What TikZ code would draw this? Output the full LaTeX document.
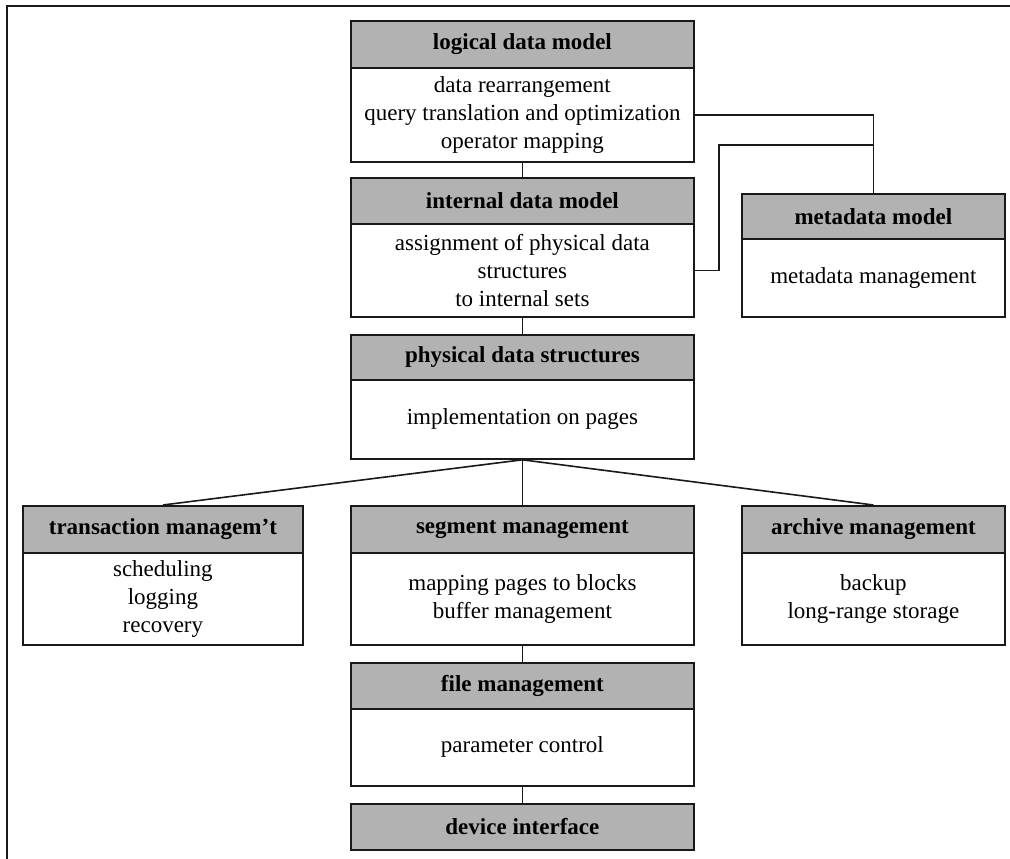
\documentclass[tikz,border=0pt]{standalone}
\usepackage{fontspec}
\setmainfont{Liberation Serif}
\begin{document}
\begin{tikzpicture}[x=1pt,y=-1pt,
  box/.style={draw=black!90, line width=1.8pt, anchor=north west, inner sep=0pt, align=center,
    font=\fontsize{23}{28}\selectfont},
  hdr/.style={box, fill=black!30, font=\fontsize{23}{28}\selectfont\bfseries},
  bodybox/.style={box, fill=white},
  link/.style={draw=black!90, line width=1.6pt}]
\useasboundingbox (0,0) rectangle (1010,859);
% partial frame: top and left edges
\draw[line width=2.2pt, black!90] (1010,6) -- (7,6) -- (7,859);

% central column
\node[hdr, minimum width=343, minimum height=47] (logh) at (350,20) {logical data model};
\node[bodybox, minimum width=343, minimum height=94] (logb) at (350,67)
  {data rearrangement\\query translation and optimization\\operator mapping};

\node[hdr, minimum width=343, minimum height=46] (inth) at (350,177) {internal data model};
\node[bodybox, minimum width=343, minimum height=93] (intb) at (350,223)
  {assignment of physical data\\structures\\to internal sets};

\node[hdr, minimum width=343, minimum height=45] (phyh) at (350,334) {physical data structures};
\node[bodybox, minimum width=343, minimum height=79] (phyb) at (350,379) {implementation on pages};

% metadata
\node[hdr, minimum width=263, minimum height=45] (metah) at (741,193) {metadata model};
\node[bodybox, minimum width=263, minimum height=78] (metab) at (741,238) {metadata management};

% lower row
\node[hdr, minimum width=280, minimum height=47] (trah) at (22,505) {transaction managem’t};
\node[bodybox, minimum width=280, minimum height=92] (trab) at (22,552) {scheduling\\logging\\recovery};

\node[hdr, minimum width=343, minimum height=47] (segh) at (350,505) {segment management};
\node[bodybox, minimum width=343, minimum height=92] (segb) at (350,552) {mapping pages to blocks\\buffer management};

\node[hdr, minimum width=263, minimum height=47] (arch) at (741,505) {archive management};
\node[bodybox, minimum width=263, minimum height=92] (arcb) at (741,552) {backup\\long-range storage};

\node[hdr, minimum width=343, minimum height=46] (fileh) at (350,662) {file management};
\node[bodybox, minimum width=343, minimum height=77] (fileb) at (350,708) {parameter control};

\node[hdr, minimum width=343, minimum height=46] (devh) at (350,803) {device interface};

% connectors
\draw[link] (logb.south) -- (inth.north);
\draw[link] (intb.south) -- (phyh.north);
\draw[link] (phyb.south) -- (trah.north);
\draw[link] (phyb.south) -- (segh.north);
\draw[link] (phyb.south) -- (arch.north);
\draw[link] (segb.south) -- (fileh.north);
\draw[link] (fileb.south) -- (devh.north);

\draw[link] (logb.east) -| (metah.north);
\coordinate (metajoin) at (metah.north |- 0,145);
\draw[link] (intb.east) -- ++(24,0) |- (metajoin);
\end{tikzpicture}
\end{document}
